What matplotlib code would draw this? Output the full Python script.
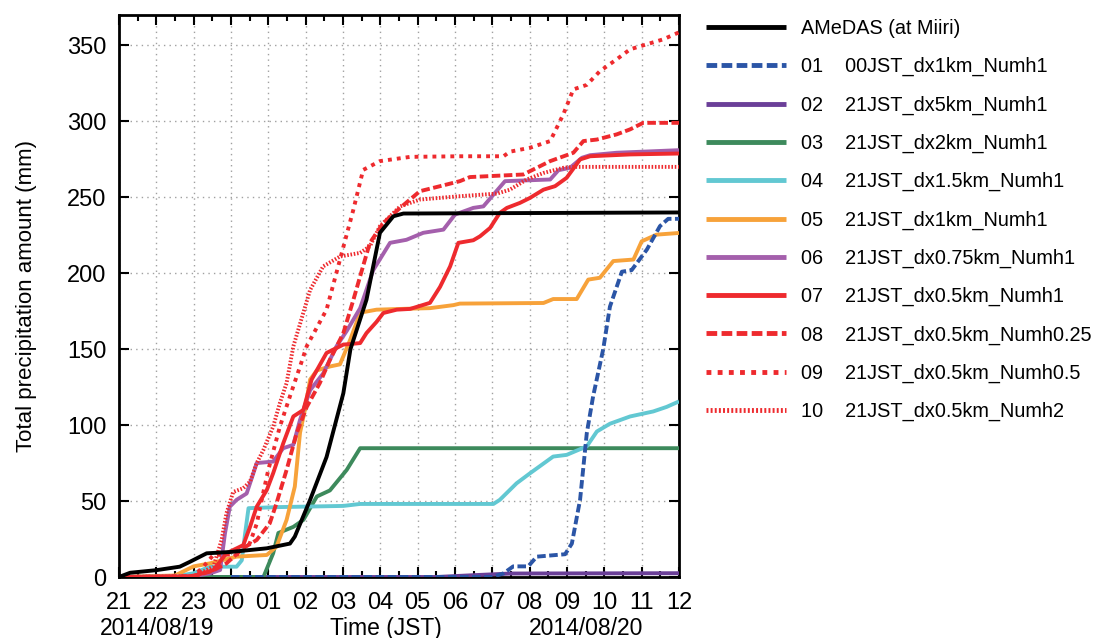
import matplotlib
matplotlib.use("Agg")
import matplotlib.pyplot as plt
from matplotlib.ticker import MultipleLocator

plt.rcParams["font.family"] = ["Liberation Sans", "DejaVu Sans"]

# hours since 21 JST on 2014/08/19
hour_labels = ["21", "22", "23", "00", "01", "02", "03", "04", "05", "06",
               "07", "08", "09", "10", "11", "12"]

amedas_h = [0, 0.3, 1.0, 1.63, 1.9, 2.35, 3.0, 3.96, 4.58, 4.71, 5.12, 5.56,
            6.01, 6.2, 6.63, 6.99, 7.35, 7.62, 15]
amedas_v = [0, 2.8, 4.5, 6.8, 10, 15.6, 16.5, 18.9, 22, 26.6, 50.8, 79,
            121, 150, 182.6, 226.6, 237.5, 239.3, 240]

m01_h = [3, 10.0, 10.3, 10.56, 10.96, 11.19, 11.95, 12.13, 12.35, 12.53, 12.7,
         12.97, 13.15, 13.47, 13.73, 14.14, 14.49, 14.71, 15]
m01_v = [0, 0, 2.4, 7, 7, 13.4, 15, 22, 50.8, 94.7, 119,
         150, 178, 201, 202, 215.6, 231, 235.8, 235.8]

m02_h = [0, 8.5, 9.5, 10.5, 15]
m02_v = [0, 0, 1.2, 2.3, 2.5]

m03_h = [0, 3.87, 4.13, 4.27, 4.67, 4.94, 5.3, 5.65, 6.1, 6.46, 15]
m03_v = [0, 0, 15.6, 29, 33, 37.6, 53, 57, 70.5, 84.8, 84.8]

m04_h = [0, 1.5, 1.99, 2.44, 3.15, 3.29, 3.38, 3.47, 4.22, 6.01, 6.46, 10.03,
         10.2, 10.65, 11.01, 11.63, 11.99, 12.53, 12.8, 13.15, 13.69, 14.31,
         14.67, 15]
m04_v = [0, 0.5, 2.4, 6.8, 6.8, 11, 28.8, 45.3, 46, 46.8, 48.1, 48.1,
         50.8, 61.7, 68.3, 79.3, 80.4, 86, 95.8, 100.9, 105.7, 109,
         112, 115.6]

m05_h = [0, 1.5, 2.0, 2.44, 3.15, 3.96, 4.22, 4.49, 4.71, 4.85, 4.98, 5.12,
         5.3, 5.65, 5.92, 6.19, 6.46, 6.9, 7.7, 8.33, 8.96, 9.13, 11.37, 11.63,
         12.26, 12.57, 12.88, 13.24, 13.78, 14.0, 14.4, 15]
m05_v = [0, 1, 7, 9, 13.4, 14.5, 20, 37.6, 59.5, 95, 110, 130,
         136, 138.6, 140, 156, 174, 176, 176.6, 177, 179, 180, 180.4, 183,
         183, 195.8, 197, 208, 209, 221, 225.4, 226.5]

m06_h = [0, 2.0, 2.44, 2.71, 2.84, 2.97, 3.15, 3.42, 3.69, 4.13, 4.22, 4.4,
         4.67, 4.85, 5.12, 5.47, 5.83, 6.1, 6.46, 6.81, 7.26, 7.7, 8.15, 8.69,
         9.0, 9.49, 9.76, 10.34, 11.55, 11.77, 12.08, 12.4, 12.62, 13.33, 15]
m06_v = [0, 0.5, 2.4, 4.6, 28.8, 46.3, 50.8, 55, 75, 76, 79, 84.8,
         87, 103.5, 123, 134, 152, 162, 177, 202, 220, 222, 226.6, 228.7,
         238.6, 243, 244, 260.6, 261.7, 267.8, 269.4, 276, 277.7, 279.3, 281]

m07_h = [0, 1.8, 2.08, 2.53, 2.88, 3.33, 3.51, 3.69, 3.96, 4.13, 4.4, 4.67,
         4.94, 5.16, 5.56, 6.01, 6.46, 6.63, 6.9, 7.08, 7.44, 7.8, 8.33, 8.6,
         8.87, 9.09, 9.49, 9.67, 9.94, 10.2, 10.39, 10.74, 11.01, 11.37, 11.68,
         11.99, 12.35, 12.62, 13.69, 15]
m07_v = [0, 0, 1.3, 4.6, 15.6, 21, 33, 46.3, 57.3, 68.3, 88, 105.7,
         110, 130, 147.5, 153, 154, 160.6, 168, 173.8, 176, 176.5, 180.5, 191,
         204.5, 220, 221.7, 224.3, 229.8, 239.7, 243, 246.3, 249.6, 255, 257.3,
         262.8, 274.9, 277, 278.2, 278.8]

m08_h = [0, 2.0, 2.5, 2.88, 3.33, 3.69, 4.04, 4.22, 4.49, 4.76, 5.03, 5.38,
         5.65, 6.01, 6.28, 6.46, 6.72, 7.08, 7.53, 8.06, 8.6, 9.13, 9.4, 10.83,
         11.19, 11.55, 12.17, 12.44, 12.8, 13.33, 13.69, 14.04, 15]
m08_v = [0, 0.5, 4, 9, 19, 24.4, 35.4, 48.6, 70.5, 94.7, 112, 127.7,
         143, 160.6, 182.6, 198, 220, 233, 243, 254, 257.3, 260.6, 263.3, 265,
         269.4, 273.8, 279.3, 287, 288, 291.4, 294.7, 299, 299]

m09_h = [0, 2.0, 2.26, 2.53, 3.24, 3.5, 3.69, 3.86, 4.0, 4.31, 4.58, 4.85,
         5.03, 5.56, 5.92, 6.28, 6.54, 6.99, 7.8, 9.13, 10.3, 10.47, 11.01,
         11.55, 11.9, 12.17, 12.53, 12.88, 13.33, 13.69, 14.04, 14.58, 15]
m09_v = [0, 0.5, 6.8, 14.5, 15, 22, 35, 55, 70.5, 99, 119, 138.6,
         152, 176, 209, 242, 268, 273.8, 276.6, 277, 277, 280, 282.6,
         287, 304.5, 321, 324, 333, 340.8, 347.4, 350, 354, 358.6]

m10_h = [0, 2.0, 2.53, 2.75, 2.88, 3.06, 3.33, 3.51, 3.69, 3.87, 4.13, 4.31,
         4.49, 4.67, 5.12, 5.47, 5.92, 6.46, 6.72, 6.99, 7.53, 8.06, 9.13,
         10.12, 10.47, 10.92, 11.37, 11.9, 12.17, 15]
m10_v = [0, 0.5, 6.8, 24.4, 42, 56, 58.5, 62.8, 75, 83.7, 99, 114.5,
         127.7, 151.8, 189, 204.5, 211, 213.4, 217.7, 231, 244, 248.5, 250.7,
         252.4, 255, 261.7, 266, 269.4, 270, 270]

red = "#ee2a2e"
lw = 2.8

fig = plt.figure(figsize=(11.19, 6.38), dpi=100)
ax = fig.add_axes([0.1063, 0.0956, 0.5005, 0.8809])

# (x, y, label, color, linestyle, zorder)
series = [
    (amedas_h, amedas_v, "AMeDAS (at Miiri)", "black", "-", 20),
    (m01_h, m01_v, "01    00JST_dx1km_Numh1", "#2b55a6", (0, (2.2, 0.9)), 15),
    (m02_h, m02_v, "02    21JST_dx5km_Numh1", "#6b3f98", "-", 5),
    (m03_h, m03_v, "03    21JST_dx2km_Numh1", "#3d8a5c", "-", 6),
    (m04_h, m04_v, "04    21JST_dx1.5km_Numh1", "#62c8d2", "-", 7),
    (m05_h, m05_v, "05    21JST_dx1km_Numh1", "#f7a23a", "-", 8),
    (m06_h, m06_v, "06    21JST_dx0.75km_Numh1", "#a45fac", "-", 9),
    (m07_h, m07_v, "07    21JST_dx0.5km_Numh1", red, "-", 10),
    (m08_h, m08_v, "08    21JST_dx0.5km_Numh0.25", red, (0, (2.2, 0.9)), 11),
    (m09_h, m09_v, "09    21JST_dx0.5km_Numh0.5", red, (0, (1.0, 1.3)), 12),
    (m10_h, m10_v, "10    21JST_dx0.5km_Numh2", red, (0, (0.4, 0.45)), 13),
]

for xs, ys, label, color, ls, z in series:
    ax.plot(xs, ys, color=color, linestyle=ls, lw=lw, label=label, zorder=z,
            solid_capstyle="butt", dash_capstyle="butt")

ax.set_xlim(0, 15)
ax.set_ylim(0, 370)
ax.xaxis.set_major_locator(MultipleLocator(1))
ax.xaxis.set_minor_locator(MultipleLocator(0.5))
ax.yaxis.set_major_locator(MultipleLocator(50))
ax.set_xticks(range(16))
ax.set_xticklabels(hour_labels)
ax.tick_params(which="both", direction="in", top=True, right=True,
               labelsize=17, width=1.5)
ax.tick_params(axis="x", pad=11)
ax.tick_params(axis="y", pad=9)
ax.tick_params(which="major", length=7)
ax.tick_params(which="minor", length=4)
ax.grid(True, which="major", color="#a0a0a0", linestyle=(0, (1, 3)), lw=1)
for sp in ax.spines.values():
    sp.set_linewidth(2)

ax.set_ylabel("Total precipitation amount (mm)", fontsize=16, labelpad=22)
for xpos, txt in [(1.03, "2014/08/19"), (7.15, "Time (JST)"), (12.5, "2014/08/20")]:
    ax.text(xpos, -0.091, txt, transform=ax.get_xaxis_transform(),
            ha="center", va="center", fontsize=16.5)

leg = fig.legend(loc="upper left", bbox_to_anchor=(0.615, 0.998), frameon=False,
                 fontsize=14.3, handlelength=4.0, handletextpad=0.8,
                 labelspacing=0.96)
for h in leg.get_lines():
    h.set_linewidth(3.5)

fig.savefig("out.png", dpi=100)
